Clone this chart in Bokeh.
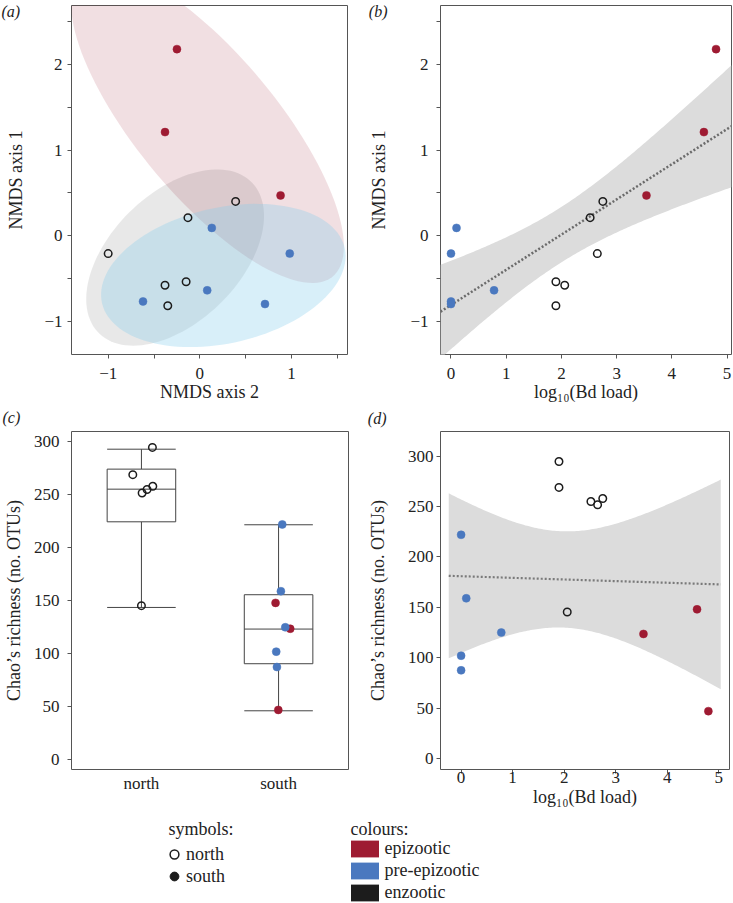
import numpy as np
from bokeh.plotting import figure
from bokeh.models import Range1d, FixedTicker, Label, Legend, LegendItem, Title
from bokeh.layouts import row, column
from bokeh.embed import file_html
from bokeh.resources import INLINE

# ---------------- data (one entry per sample) ----------------
sample_group = ["epizootic"] * 3 + ["pre-epizootic"] * 5 + ["enzootic"] * 6
sample_region = ["south"] * 8 + ["north"] * 6
nmds_axis2 = [-0.25, -0.38, 0.88, 0.13, 0.98, -0.62, 0.71, 0.08,
              -1.00, -0.13, 0.39, -0.38, -0.15, -0.35]
nmds_axis1 = [2.18, 1.21, 0.47, 0.09, -0.21, -0.77, -0.80, -0.64,
              -0.21, 0.21, 0.40, -0.58, -0.54, -0.82]
log10_bd_load = [4.80, 4.58, 3.54, 0.10, 0.00, 0.00, 0.00, 0.78,
                 2.65, 2.52, 2.75, 2.06, 1.90, 1.90]
chao_richness = [47.0, 148.0, 123.6, 159.0, 222.0, 102.0, 87.5, 125.0,
                 251.7, 255.0, 258.0, 145.4, 294.7, 269.0]
strip_jitter = [-0.002, -0.022, 0.085, 0.017, 0.027, -0.017, -0.012, 0.049,
                0.005, 0.041, 0.083, 0.0, 0.080, -0.063]

# box-plot statistics (panel c)
box_regions = ["north", "south"]
box_lower = [143.7, 46.2]
box_q1 = [224.5, 90.6]
box_median = [255.3, 123.3]
box_q3 = [274.2, 155.7]
box_upper = [293.0, 221.7]

# legend entries
symbol_labels = ["north", "south"]
colour_labels = ["epizootic", "pre-epizootic", "enzootic"]

# axis ranges / ticks
a_xrange = (-1.40, 1.61)
nmds_yrange = (-1.39, 2.69)
b_xrange = (-0.19, 5.08)
c_xrange = (0.49, 2.51)
c_yrange = (-9.2, 309.7)
d_xrange = (-0.40, 5.21)
d_yrange = (-10.9, 324.5)
nmds_ticks = [-1, -0.5, 0, 0.5, 1, 1.5, 2, 2.5]
a_xticks = [-1, -0.5, 0, 0.5, 1, 1.5]
bd_ticks = [0, 1, 2, 3, 4, 5]
chao_ticks = [0, 50, 100, 150, 200, 250, 300]

# ---------------- styles ----------------
FONT = "Liberation Serif"
TXT = "#222222"
FRAME = "#555555"
COL = {"epizootic": "#9E1B32", "pre-epizootic": "#4A78BF", "enzootic": "#1C1C1C"}
ELL = {"epizootic": ("#9E1B32", 0.14), "enzootic": ("#000000", 0.09),
       "pre-epizootic": ("#87CEEB", 0.32)}
BAND = "#dcdcdc"
TICK_FS = "17px"
TITLE_FS = "18px"


def half_labels(ticks):
    out = {}
    for t in ticks:
        if float(t).is_integer():
            out[int(t)] = ("\u2212%d" % abs(int(t))) if t < 0 else str(int(t))
        else:
            out[t] = ""
    return out


def panel(w, h, xr, yr, bl, br, bt, bb):
    p = figure(width=w, height=h, x_range=Range1d(*xr), y_range=Range1d(*yr),
               output_backend="svg", toolbar_location=None,
               min_border_left=bl, min_border_right=br,
               min_border_top=bt, min_border_bottom=bb)
    p.grid.visible = False
    p.outline_line_color = FRAME
    p.outline_line_width = 1
    p.border_fill_color = "white"
    p.background_fill_color = "white"
    return p


def style_axis(ax, tick_out=4, label_standoff=5, title_standoff=0):
    ax.axis_line_color = None
    ax.major_tick_out = tick_out
    ax.major_tick_in = 0
    ax.minor_tick_out = 0
    ax.minor_tick_in = 0
    ax.major_tick_line_color = FRAME
    ax.major_tick_line_width = 1
    ax.major_label_text_font = FONT
    ax.major_label_text_font_size = TICK_FS
    ax.major_label_text_color = TXT
    ax.major_label_standoff = label_standoff
    ax.axis_label_text_font = FONT
    ax.axis_label_text_font_size = TITLE_FS
    ax.axis_label_text_font_style = "normal"
    ax.axis_label_text_color = TXT
    ax.axis_label_standoff = title_standoff


def add_points(p, x, y):
    x = np.asarray(x, float)
    y = np.asarray(y, float)
    reg = np.array(sample_region)
    grp = np.array(sample_group)
    s = reg == "south"
    cs = [COL[g] for g in grp[s]]
    p.scatter(x[s], y[s], size=8, fill_color=cs, line_color=cs, line_width=0.5)
    n = ~s
    cn = [COL[g] for g in grp[n]]
    p.scatter(x[n], y[n], size=7.5, fill_color=None, line_color=cn, line_width=1.5)


def conf_ellipse(x, y, conf=0.90, npts=120):
    x = np.asarray(x, float)
    y = np.asarray(y, float)
    cov = np.cov(x, y)
    r = np.sqrt(-2.0 * np.log(1.0 - conf))
    L = np.linalg.cholesky(cov)
    t = np.linspace(0, 2 * np.pi, npts)
    pts = L @ np.vstack([np.cos(t), np.sin(t)]) * r
    return x.mean() + pts[0], y.mean() + pts[1]


def ols_band(x, y, xs, tval=2.1788):
    x = np.asarray(x, float)
    y = np.asarray(y, float)
    n = len(x)
    b1, b0 = np.polyfit(x, y, 1)
    res = y - (b0 + b1 * x)
    s = np.sqrt((res ** 2).sum() / (n - 2))
    sxx = ((x - x.mean()) ** 2).sum()
    fit = b0 + b1 * xs
    se = s * np.sqrt(1.0 / n + (xs - x.mean()) ** 2 / sxx)
    return fit, fit - tval * se, fit + tval * se


def panel_title(p, txt, offset, standoff, place):
    t = Title(text=txt, align="left", offset=offset, standoff=standoff,
              vertical_align="bottom", text_font=FONT, text_font_size="16px",
              text_font_style="italic", text_color=TXT)
    p.add_layout(t, place)


TOP_H, BOT_H, LEG_H = 430, 379, 94
A_W, B_W = 362, 371

# ---------------- panel a ----------------
pa = panel(A_W, TOP_H, a_xrange, nmds_yrange, 71, 15, 5, 73)
grp_arr = np.array(sample_group)
for g in ["epizootic", "enzootic", "pre-epizootic"]:
    m = grp_arr == g
    ex, ey = conf_ellipse(np.array(nmds_axis2)[m], np.array(nmds_axis1)[m])
    pa.patch(ex, ey, fill_color=ELL[g][0], fill_alpha=ELL[g][1], line_color=None)
add_points(pa, nmds_axis2, nmds_axis1)
pa.xaxis.ticker = FixedTicker(ticks=a_xticks)
pa.xaxis.major_label_overrides = half_labels(a_xticks)
pa.yaxis.ticker = FixedTicker(ticks=nmds_ticks)
pa.yaxis.major_label_overrides = half_labels(nmds_ticks)
pa.xaxis.axis_label = "NMDS axis 2"
pa.yaxis.axis_label = "NMDS axis 1"
style_axis(pa.xaxis[0], 4, 9, 0)
style_axis(pa.yaxis[0], 4, 5, 15)
panel_title(pa, "(a)", -70, -28, "above")
panel_title(pa, "(c)", -69, 5, "below")

# ---------------- panel b ----------------
pb = panel(B_W, TOP_H, b_xrange, nmds_yrange, 78, 2, 5, 73)
xs_b = np.linspace(b_xrange[0], b_xrange[1], 150)
fit_b, lo_b, hi_b = ols_band(log10_bd_load, nmds_axis1, xs_b)
pb.varea(x=xs_b, y1=lo_b, y2=hi_b, fill_color=BAND)
pb.line(xs_b, fit_b, line_color="#6b6b6b", line_width=2.5, line_dash="2 2")
add_points(pb, log10_bd_load, nmds_axis1)
pb.xaxis.ticker = FixedTicker(ticks=bd_ticks)
pb.yaxis.ticker = FixedTicker(ticks=nmds_ticks)
pb.yaxis.major_label_overrides = half_labels(nmds_ticks)
pb.xaxis.axis_label = "log\u2081\u2080(Bd load)"
pb.yaxis.axis_label = "NMDS axis 1"
style_axis(pb.xaxis[0], 4, 9, 0)
style_axis(pb.yaxis[0], 4, 8, 18)
panel_title(pb, "(b)", -71.7, -28, "above")
panel_title(pb, "(d)", -72.7, 7, "below")

# ---------------- panel c ----------------
pc = panel(A_W, BOT_H, c_xrange, c_yrange, 71, 14, 1, 40)
bx = np.arange(1, len(box_regions) + 1, dtype=float)
BOX_W = 0.5
BOX_LINE = dict(line_color="#444444", line_width=1)
pc.segment(x0=bx, y0=box_q3, x1=bx, y1=box_upper, **BOX_LINE)
pc.segment(x0=bx, y0=box_lower, x1=bx, y1=box_q1, **BOX_LINE)
pc.segment(x0=bx - BOX_W / 2, y0=box_upper, x1=bx + BOX_W / 2, y1=box_upper, **BOX_LINE)
pc.segment(x0=bx - BOX_W / 2, y0=box_lower, x1=bx + BOX_W / 2, y1=box_lower, **BOX_LINE)
pc.quad(left=bx - BOX_W / 2, right=bx + BOX_W / 2, bottom=box_q1, top=box_q3,
        fill_color="white", **BOX_LINE)
pc.segment(x0=bx - BOX_W / 2, y0=box_median, x1=bx + BOX_W / 2, y1=box_median, **BOX_LINE)
pos = {r: i + 1 for i, r in enumerate(box_regions)}
cx = np.array([pos[r] for r in sample_region], float) + np.array(strip_jitter)
add_points(pc, cx, chao_richness)
pc.xaxis.ticker = FixedTicker(ticks=list(bx))
pc.xaxis.major_label_overrides = {i + 1: r for i, r in enumerate(box_regions)}
pc.yaxis.ticker = FixedTicker(ticks=chao_ticks)
pc.yaxis.axis_label = "Chao\u2019s richness (no. OTUs)"
style_axis(pc.xaxis[0], 0, 4, 0)
style_axis(pc.yaxis[0], 4, 8, 7)

# ---------------- panel d ----------------
pd_ = panel(B_W, BOT_H, d_xrange, d_yrange, 78, 4, 1, 40)
bdx = np.asarray(log10_bd_load, float)
span = bdx.max() - bdx.min()
xs_d = np.linspace(bdx.min() - 0.05 * span, bdx.max() + 0.05 * span, 150)
fit_d, lo_d, hi_d = ols_band(log10_bd_load, chao_richness, xs_d)
pd_.varea(x=xs_d, y1=lo_d, y2=hi_d, fill_color=BAND)
pd_.line(xs_d, fit_d, line_color="#7a7a7a", line_width=2.2, line_dash="2 2")
add_points(pd_, log10_bd_load, chao_richness)
pd_.xaxis.ticker = FixedTicker(ticks=bd_ticks)
pd_.yaxis.ticker = FixedTicker(ticks=chao_ticks)
pd_.xaxis.axis_label = "log\u2081\u2080(Bd load)"
pd_.yaxis.axis_label = "Chao\u2019s richness (no. OTUs)"
style_axis(pd_.xaxis[0], 4, -2, 1)
style_axis(pd_.yaxis[0], 4, 3, 17)

# ---------------- legend strip ----------------
lg = figure(width=A_W + B_W, height=LEG_H, x_range=Range1d(0, 1), y_range=Range1d(0, 1),
            output_backend="svg", toolbar_location=None,
            x_axis_location=None, y_axis_location=None,
            min_border_left=0, min_border_right=0, min_border_top=0, min_border_bottom=0)
lg.grid.visible = False
lg.outline_line_color = None
ink = COL["enzootic"]
nan = np.array([np.nan])
r_open = lg.scatter(x=nan, y=nan, fill_color=None, line_color=ink, line_width=1.5)
r_fill = lg.scatter(x=nan, y=nan, fill_color=ink, line_color=ink)
sym_items = [LegendItem(label=symbol_labels[0], renderers=[r_open]),
             LegendItem(label=symbol_labels[1], renderers=[r_fill])]
col_items = []
for g in colour_labels:
    r = lg.quad(left=nan, right=nan, top=nan, bottom=nan, fill_color=COL[g], line_color=None)
    col_items.append(LegendItem(label=g, renderers=[r]))

common = dict(orientation="vertical", padding=0, margin=0, border_line_color=None,
              background_fill_alpha=0, label_text_font=FONT, label_text_font_size="18px",
              label_text_color=TXT)
leg1 = Legend(items=sym_items, location=(163, 16), glyph_width=22, glyph_height=22,
              label_height=22, spacing=0, label_standoff=1, **common)
leg2 = Legend(items=col_items, location=(346.5, 0), glyph_width=35, glyph_height=21,
              label_height=21, spacing=1, label_standoff=3, **common)
lg.add_layout(leg1)
lg.add_layout(leg2)
for txt, x in [("symbols:", 168), ("colours:", 350)]:
    lg.add_layout(Label(x=x, y=74.7, x_units="screen", y_units="screen", text=txt,
                        text_font=FONT, text_font_size="18px", text_color=TXT,
                        text_baseline="alphabetic", text_align="left"))

layout = column(row(pa, pb), row(pc, pd_), lg)
open("out.html", "w").write(file_html(layout, INLINE))
